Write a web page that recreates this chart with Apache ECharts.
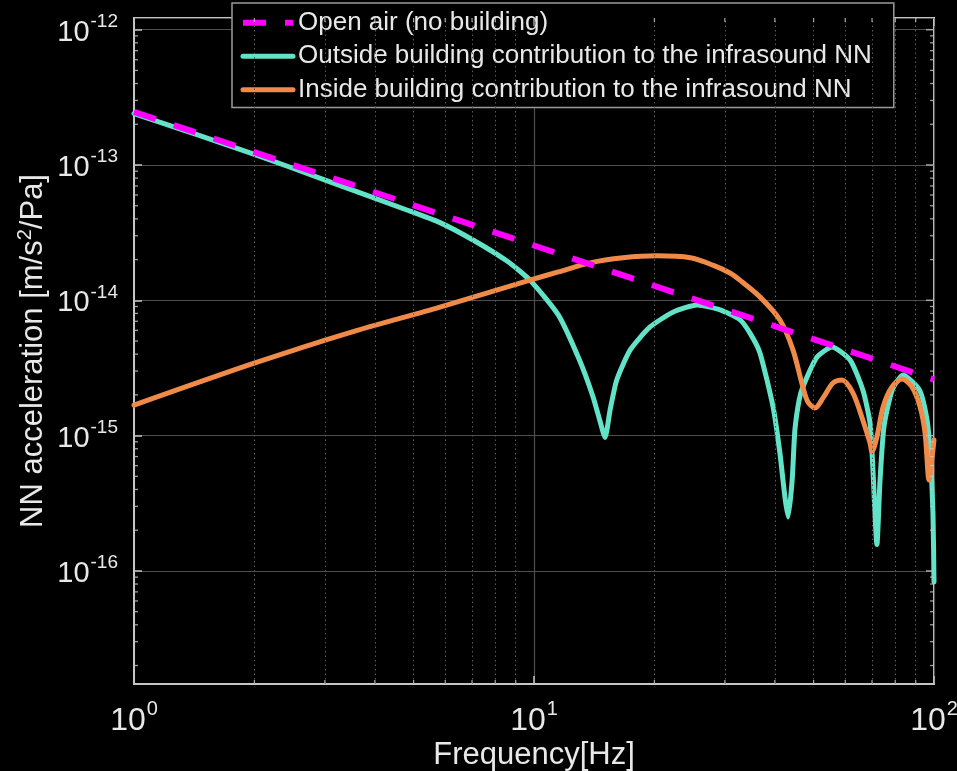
<!DOCTYPE html>
<html>
<head>
<meta charset="utf-8">
<script src="https://cdn.jsdelivr.net/npm/echarts@6/dist/echarts.min.js"></script>
<style>
  html, body { margin: 0; padding: 0; background: #000; }
  #chart { width: 957px; height: 771px; }
</style>
</head>
<body>
<div id="chart"></div>
<script>
// Newtonian-noise acceleration per unit pressure vs frequency (log-log)

// Open air reference (no building)
const openAirFreq = [1, 10, 100];
const openAirNN   = [2.47e-13, 2.54e-14, 2.6e-15];

// Outside-building contribution to the infrasound NN
const outsideFreq = [1, 2, 3.09, 4.81, 5.82, 7.04, 8.56, 9.77, 11.5, 13.0, 14.05, 14.6, 15.05, 15.5, 16.1,
  17.4, 19.5, 22.3, 25.6, 29.2, 32.7, 34.7, 36.7, 39.6, 41.2, 42.4, 43.2, 44.2, 44.9, 46.0, 47.0,
  51.0, 55.6, 61.7, 66.4, 69.2, 70.3, 72.0, 73.3, 75.0, 78.6, 83.7, 92.0, 96.1, 97.8, 99.4, 100];
const outsideNN = [2.40e-13, 1.20e-13, 7.5e-14, 4.65e-14, 3.75e-14, 2.79e-14, 1.95e-14, 1.41e-14, 7.8e-15,
  3.6e-15, 1.93e-15, 1.3e-15, 9.7e-16, 1.55e-15, 2.58e-15,
  4.3e-15, 6.35e-15, 8.2e-15, 9.23e-15, 8.5e-15, 7.2e-15, 5.7e-15, 4.1e-15, 1.63e-15, 7.4e-16, 3.5e-16,
  2.5e-16, 4.7e-16, 1.1e-15, 1.83e-15, 2.29e-15,
  3.81e-15, 4.52e-15, 3.62e-15, 2.17e-15, 1.24e-15, 5.9e-16, 1.57e-16, 4.7e-16, 1.17e-15, 2.17e-15,
  2.81e-15, 2.17e-15, 1.3e-15, 7.4e-16, 2.7e-16, 8.3e-17];

// Inside-building contribution to the infrasound NN
const insideFreq = [1, 1.98, 3.43, 5.82, 9.77, 11.5, 13.8, 16.7, 20.3, 24.6, 28.0, 30.9, 32.7, 36.7,
  41.2, 44.4, 47.0, 48.4, 50.4, 52.8, 55.9, 58.9, 62.7, 66.4, 69.2, 70.0, 72.0, 74.6, 78.5, 83.2,
  88.1, 92.3, 95.0, 97.2, 98.9, 100];
const insideNN = [1.68e-15, 3.40e-15, 5.73e-15, 8.91e-15, 1.41e-14, 1.62e-14, 1.89e-14, 2.06e-14, 2.13e-14,
  2.06e-14, 1.82e-14, 1.59e-14, 1.41e-14, 1.06e-14,
  7.15e-15, 4.3e-15, 2.29e-15, 1.77e-15, 1.6e-15, 1.9e-15, 2.45e-15, 2.58e-15, 2.07e-15, 1.3e-15, 8.8e-16,
  7.6e-16, 9.8e-16, 1.63e-15, 2.29e-15, 2.62e-15,
  2.29e-15, 1.63e-15, 1.04e-15, 4.7e-16, 6.95e-16, 9.3e-16];

const seriesNames = [
  'Open air (no building)',
  'Outside building contribution to the infrasound NN',
  'Inside building contribution to the infrasound NN'
];

// Axis extents and tick positions
const xMin = 1, xMax = 100;
const yMin = 1.46e-17, yMax = 1.22e-12;
const xMinorTicks = [2, 3, 4, 5, 6, 7, 8, 9, 20, 30, 40, 50, 60, 70, 80, 90];
const xMajorTicks = [1, 10, 100];
const yMantissas = [2, 3, 4, 5, 6, 7, 8, 9];
const yDecades = [1e-17, 1e-16, 1e-15, 1e-14, 1e-13];
const yMajorTicks = [1e-16, 1e-15, 1e-14, 1e-13, 1e-12];

const yMinorTicks = [];
yDecades.forEach(d => yMantissas.forEach(m => {
  const v = m * d;
  if (v >= yMin && v <= yMax) yMinorTicks.push(v);
}));

const pair = (xs, ys) => xs.map((x, i) => [x, ys[i]]);

const TEXT = '#e8e8e8';
const FONT = '"Liberation Sans", Arial, Helvetica, sans-serif';
const GRID_MAJOR = '#4e4e4e';
const GRID_MINOR = '#5a5a5a';
const BOX = '#c4c4c4';
const C_OPEN = '#ff00ff', C_OUT = '#62e3c8', C_IN = '#f08a48';

// "10" with the exponent raised as a superscript
function powLabel(v) {
  const lg = Math.log10(v);
  const e = Math.round(lg);
  if (Math.abs(lg - e) > 1e-6) return '';
  return '{b|10}{s|' + e + '}';
}
function tickRich(base, sup, lift) {
  return {
    b: { fontSize: base, lineHeight: base, color: TEXT, fontFamily: FONT },
    s: { fontSize: sup, lineHeight: sup, padding: [0, 0, 2 * lift, 1], color: TEXT, fontFamily: FONT }
  };
}

// Dotted minor grid, drawn as mark lines at the 2..9 sub-decade values
const minorGridSeries = {
  type: 'line', data: [], silent: true, z: 1,
  markLine: {
    silent: true, symbol: 'none', label: { show: false },
    lineStyle: { color: GRID_MINOR, width: 1, type: [1.5, 3] },
    emphasis: { disabled: true },
    data: xMinorTicks.map(v => ({ xAxis: v })).concat(yMinorTicks.map(v => ({ yAxis: v })))
  }
};

// Inward tick marks on all four edges of the box
function tickSeries(points, size, offset) {
  return {
    type: 'scatter', data: points, symbol: 'rect', symbolSize: size, symbolOffset: offset,
    itemStyle: { color: BOX }, silent: true, clip: false, z: 6, animation: false
  };
}
const tickSets = [
  tickSeries(yMinorTicks.map(v => [xMin, v]), [4, 1.3], [2, 0]),
  tickSeries(yMinorTicks.map(v => [xMax, v]), [4, 1.3], [-2, 0]),
  tickSeries(xMinorTicks.map(v => [v, yMin]), [1.3, 4], [0, -2]),
  tickSeries(xMinorTicks.map(v => [v, yMax]), [1.3, 4], [0, 2]),
  tickSeries(yMajorTicks.map(v => [xMax, v]), [8, 1.5], [-4, 0]),
  tickSeries(xMajorTicks.map(v => [v, yMax]), [1.5, 8], [0, 4])
];

const chart = echarts.init(document.getElementById('chart'), null, { renderer: 'canvas' });

chart.setOption({
  backgroundColor: '#000',
  animation: false,
  textStyle: { fontFamily: FONT },
  grid: {
    left: 134, right: 23, top: 18, bottom: 87,
    outerBoundsMode: 'none', containLabel: false,
    show: true, borderColor: BOX, borderWidth: 2, backgroundColor: '#000'
  },
  legend: {
    orient: 'vertical',
    left: 232, top: 3,
    padding: [3, 22, 1, 8],
    itemGap: 0,
    itemWidth: 50, itemHeight: 14,
    backgroundColor: '#000',
    borderColor: '#9a9a9a', borderWidth: 1.5, borderRadius: 0,
    itemStyle: { opacity: 0 },
    textStyle: { color: TEXT, fontSize: 26, lineHeight: 33.5, fontFamily: FONT },
    data: [
      { name: seriesNames[0], itemStyle: { opacity: 0 }, lineStyle: { width: 6, color: C_OPEN, type: [23, 19] } },
      { name: seriesNames[1], itemStyle: { opacity: 0 }, lineStyle: { width: 5, color: C_OUT } },
      { name: seriesNames[2], itemStyle: { opacity: 0 }, lineStyle: { width: 5, color: C_IN } }
    ]
  },
  xAxis: {
    type: 'log', logBase: 10, min: xMin, max: xMax, splitNumber: 2,
    name: 'Frequency[Hz]', nameLocation: 'middle', nameGap: 56, nameMoveOverlap: false,
    nameTextStyle: { color: TEXT, fontSize: 31, fontFamily: FONT },
    axisLine: { show: true, onZero: false, lineStyle: { color: BOX, width: 2 } },
    axisTick: { show: true, inside: true, length: 8, lineStyle: { color: BOX, width: 1.5 } },
    axisLabel: { color: TEXT, margin: 21, formatter: powLabel, rich: tickRich(32, 20, 12) },
    splitLine: { show: true, lineStyle: { color: GRID_MAJOR, width: 1.2 } }
  },
  yAxis: {
    type: 'log', logBase: 10, min: yMin, max: yMax, splitNumber: 5,
    name: '{t|NN acceleration [m/s}{u|2}{t|/Pa]}', nameLocation: 'middle', nameGap: 85, nameRotate: 90,
    nameMoveOverlap: false,
    nameTextStyle: {
      color: TEXT, fontFamily: FONT,
      rich: {
        t: { fontSize: 31, lineHeight: 31, color: TEXT, fontFamily: FONT },
        u: { fontSize: 20, lineHeight: 20, padding: [0, 0, 16, 0], color: TEXT, fontFamily: FONT }
      }
    },
    axisLine: { show: true, onZero: false, lineStyle: { color: BOX, width: 2 } },
    axisTick: { show: true, inside: true, length: 8, lineStyle: { color: BOX, width: 1.5 } },
    axisLabel: {
      color: TEXT, margin: 16, padding: [6, 0, 0, 0], formatter: powLabel, rich: tickRich(29, 19, 11),
      showMinLabel: false, showMaxLabel: false
    },
    splitLine: { show: true, lineStyle: { color: GRID_MAJOR, width: 1.2 } }
  },
  series: [
    minorGridSeries,
    {
      name: seriesNames[1], type: 'line', data: pair(outsideFreq, outsideNN),
      symbol: 'none', smooth: 0.2, z: 3,
      lineStyle: { color: C_OUT, width: 5, join: 'round', cap: 'round' },
      itemStyle: { color: C_OUT }
    },
    {
      name: seriesNames[2], type: 'line', data: pair(insideFreq, insideNN),
      symbol: 'none', smooth: 0.3, z: 4,
      lineStyle: { color: C_IN, width: 5, join: 'round', cap: 'round' },
      itemStyle: { color: C_IN }
    },
    {
      name: seriesNames[0], type: 'line', data: pair(openAirFreq, openAirNN),
      symbol: 'none', z: 5,
      lineStyle: { color: C_OPEN, width: 6, type: [23, 19] },
      itemStyle: { color: C_OPEN }
    }
  ].concat(tickSets)
});
</script>
</body>
</html>
